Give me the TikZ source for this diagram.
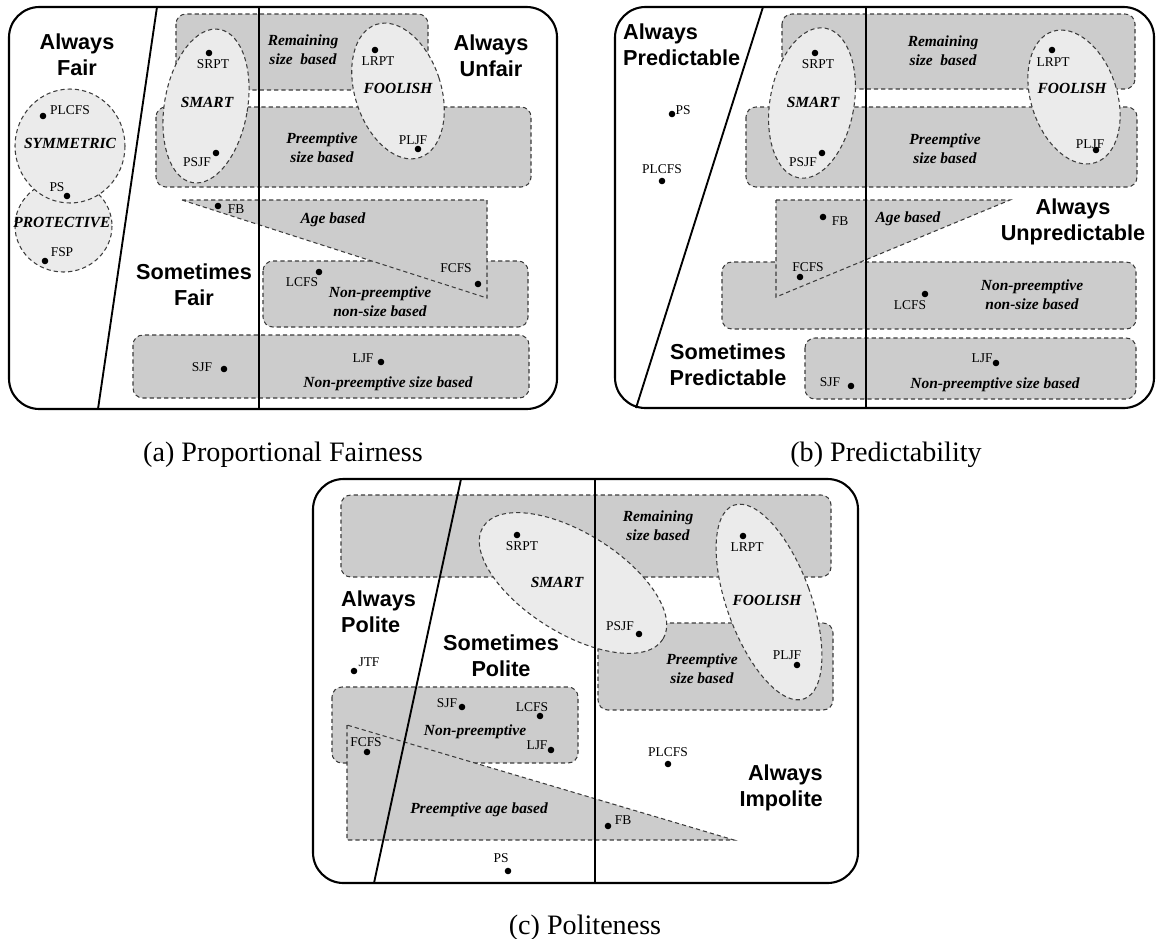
\documentclass[tikz,border=0pt]{standalone}
\usepackage{fontspec}
\setmainfont{Liberation Serif}
\setsansfont{Liberation Sans}
\definecolor{boxgray}{HTML}{CCCCCC}
\definecolor{ellgray}{HTML}{EBEBEB}
\definecolor{edgegray}{HTML}{3C3C3C}
\begin{document}
\begin{tikzpicture}[x=0.03cm,y=-0.03cm,
  dashedge/.style={draw=edgegray, line width=0.9pt, dash pattern=on 3.6pt off 2.6pt},
  classbox/.style={dashedge, fill=boxgray, rounded corners=8.5pt},
  classtri/.style={dashedge, fill=boxgray},
  group/.style={dashedge, fill=ellgray},
  frame/.style={draw=black, line width=1.8pt, rounded corners=26pt},
  divider/.style={draw=black, line width=1.6pt},
  dot/.style={circle, fill=black, inner sep=0pt, minimum size=5.6pt},
  lbl/.style={font=\fontsize{11.5}{12}\selectfont, inner sep=0pt},
  cat/.style={font=\bfseries\itshape\fontsize{13.2}{16}\selectfont, align=center, inner sep=0pt},
  region/.style={font=\sffamily\bfseries\fontsize{18.5}{22}\selectfont, align=center, inner sep=0pt},
  caption/.style={font=\fontsize{24}{28}\selectfont, inner sep=0pt, anchor=base},
]
\useasboundingbox (0,0) rectangle (1158,938);

% ================= (a) Proportional Fairness =================
\path[classbox] (176,14) rectangle (428,90);
\path[classbox] (156,107) rectangle (531,187);
\path[classbox] (263,261) rectangle (528,327);
\path[classtri] (182,200) -- (487,200) -- (487,298) -- cycle;
\path[classbox] (133,335) rectangle (529,398);
\path[group, rotate around={-10:(206,106)}] (206,106) ellipse (41.5 and 77.8);
\path[group, rotate around={18:(398,91)}] (398,91) ellipse (43 and 70);
\path[group] (63.5,226) ellipse (48.5 and 46);
\path[group] (70,146) ellipse (55 and 57);

\draw[divider] (157,7) -- (98,409);
\draw[divider] (259,7) -- (259,409);
\draw[frame] (9,7) rectangle (557,409);

\node[region] (a-fair) at (77,55) {Always\\Fair};
\node[region] (a-unfair) at (491,56) {Always\\Unfair};
\node[region] (a-some) at (194,285) {Sometimes\\Fair};

\node[cat] (a-rem) at (303,50) {Remaining\\size \ based};
\node[cat] (a-pre) at (322,148) {Preemptive\\size based};
\node[cat] (a-age) at (333,220) {Age based};
\node[cat] (a-npns) at (380,302) {Non-preemptive\\non-size based};
\node[cat] (a-nps) at (388,384) {Non-preemptive size based};
\node[cat] (a-smart) at (207,102) {SMART};
\node[cat] (a-fool) at (398,88) {FOOLISH};
\node[cat] (a-sym) at (70,143) {SYMMETRIC};
\node[cat] (a-prot) at (62,222) {PROTECTIVE};

\node[dot] (a-srpt) at (209,53) {};   \node[lbl] (a-srpt-l) at (213,64) {SRPT};
\node[dot] (a-psjf) at (216,153) {};  \node[lbl] (a-psjf-l) at (197,162) {PSJF};
\node[dot] (a-plcfs) at (43,116) {};  \node[lbl] (a-plcfs-l) at (70,110) {PLCFS};
\node[dot] (a-ps) at (67,196) {};     \node[lbl] (a-ps-l) at (57,187) {PS};
\node[dot] (a-fsp) at (45,261) {};    \node[lbl] (a-fsp-l) at (62,252) {FSP};
\node[dot] (a-fb) at (218,206) {};    \node[lbl] (a-fb-l) at (236,209) {FB};
\node[dot] (a-sjf) at (224,369) {};   \node[lbl] (a-sjf-l) at (202,367) {SJF};
\node[dot] (a-lcfs) at (319,272) {};  \node[lbl] (a-lcfs-l) at (302,282) {LCFS};
\node[dot] (a-lrpt) at (375,50) {};   \node[lbl] (a-lrpt-l) at (378,61) {LRPT};
\node[dot] (a-pljf) at (418,149) {};  \node[lbl] (a-pljf-l) at (413,140) {PLJF};
\node[dot] (a-fcfs) at (478,284) {};  \node[lbl] (a-fcfs-l) at (456,268) {FCFS};
\node[dot] (a-ljf) at (381,362) {};   \node[lbl] (a-ljf-l) at (363,358) {LJF};

\node[caption] (cap-a) at (283,461) {(a) Proportional Fairness};

% ================= (b) Predictability =================
\path[classbox] (782,14) rectangle (1135,89);
\path[classbox] (746,107) rectangle (1137,187);
\path[classbox] (722,262) rectangle (1136,329);
\path[classtri] (776,200) -- (1010,200) -- (776,297) -- cycle;
\path[classbox] (805,338) rectangle (1136,399);
\path[group, rotate around={-10:(812,103)}] (812,103) ellipse (42 and 76);
\path[group, rotate around={18:(1074,97)}] (1074,97) ellipse (43 and 69);

\draw[divider] (763,7) -- (636,408);
\draw[divider] (866,7) -- (866,408);
\draw[frame] (615,7) rectangle (1154,408);

\node[region, anchor=west, align=left] (b-pred) at (623,45) {Always\\Predictable};
\node[region] (b-unpred) at (1073,222) {Always\\Unpredictable};
\node[region] (b-some) at (728,365) {Sometimes\\Predictable};

\node[cat] (b-rem) at (943,51) {Remaining\\size \ based};
\node[cat] (b-pre) at (945,149) {Preemptive\\size based};
\node[cat] (b-age) at (908,219) {Age based};
\node[cat] (b-npns) at (1032,295) {Non-preemptive\\non-size based};
\node[cat] (b-nps) at (995,385) {Non-preemptive size based};
\node[cat] (b-smart) at (813,102) {SMART};
\node[cat] (b-fool) at (1072,88) {FOOLISH};

\node[dot] (b-srpt) at (815,53) {};   \node[lbl] (b-srpt-l) at (818,64) {SRPT};
\node[dot] (b-psjf) at (822,153) {};  \node[lbl] (b-psjf-l) at (803,162) {PSJF};
\node[dot] (b-ps) at (672,114) {};    \node[lbl] (b-ps-l) at (683,110) {PS};
\node[dot] (b-plcfs) at (662,181) {}; \node[lbl] (b-plcfs-l) at (662,169) {PLCFS};
\node[dot] (b-fb) at (823,217) {};    \node[lbl] (b-fb-l) at (840,221) {FB};
\node[dot] (b-fcfs) at (800,277) {};  \node[lbl] (b-fcfs-l) at (808,267) {FCFS};
\node[dot] (b-lrpt) at (1052,50) {};  \node[lbl] (b-lrpt-l) at (1053,62) {LRPT};
\node[dot] (b-pljf) at (1096,150) {}; \node[lbl] (b-pljf-l) at (1090,144) {PLJF};
\node[dot] (b-lcfs) at (925,294) {};  \node[lbl] (b-lcfs-l) at (910,305) {LCFS};
\node[dot] (b-ljf) at (996,363) {};   \node[lbl] (b-ljf-l) at (982,358) {LJF};
\node[dot] (b-sjf) at (851,386) {};   \node[lbl] (b-sjf-l) at (830,382) {SJF};

\node[caption] (cap-b) at (886,461) {(b) Predictability};

% ================= (c) Politeness =================
\path[classbox] (341,495) rectangle (831,577);
\path[classbox] (598,623) rectangle (833,710);
\path[classbox] (332,687) rectangle (578,763);
\path[classtri] (347,725) -- (347,840) -- (734,840) -- cycle;
\path[group, rotate around={-32:(573,583)}] (573,583) ellipse (106 and 50);
\path[group, rotate around={20:(769,602)}] (769,602) ellipse (42 and 103);

\draw[divider] (461,479) -- (374,883);
\draw[divider] (595,479) -- (595,883);
\draw[frame] (313,479) rectangle (858,883);

\node[region, anchor=west, align=left] (c-polite) at (341,612) {Always\\Polite};
\node[region] (c-some) at (501,656) {Sometimes\\Polite};
\node[region, anchor=east, align=right] (c-impolite) at (823,788) {Always\\Impolite};

\node[cat] (c-rem) at (658,526) {Remaining\\size based};
\node[cat] (c-pre) at (702,669) {Preemptive\\size based};
\node[cat] (c-np) at (475,732) {Non-preemptive};
\node[cat] (c-age) at (479,810) {Preemptive age based};
\node[cat] (c-smart) at (557,582) {SMART};
\node[cat] (c-fool) at (767,600) {FOOLISH};

\node[dot] (c-srpt) at (517,535) {};  \node[lbl] (c-srpt-l) at (522,546) {SRPT};
\node[dot] (c-psjf) at (639,634) {};  \node[lbl] (c-psjf-l) at (620,626) {PSJF};
\node[dot] (c-lrpt) at (743,536) {};  \node[lbl] (c-lrpt-l) at (747,547) {LRPT};
\node[dot] (c-pljf) at (797,665) {};  \node[lbl] (c-pljf-l) at (787,655) {PLJF};
\node[dot] (c-plcfs) at (668,764) {}; \node[lbl] (c-plcfs-l) at (668,752) {PLCFS};
\node[dot] (c-fb) at (608,826) {};    \node[lbl] (c-fb-l) at (623,820) {FB};
\node[dot] (c-jtf) at (354,671) {};   \node[lbl] (c-jtf-l) at (369,662) {JTF};
\node[dot] (c-sjf) at (462,707) {};   \node[lbl] (c-sjf-l) at (447,703) {SJF};
\node[dot] (c-lcfs) at (540,716) {};  \node[lbl] (c-lcfs-l) at (532,707) {LCFS};
\node[dot] (c-ljf) at (551,750) {};   \node[lbl] (c-ljf-l) at (537,745) {LJF};
\node[dot] (c-fcfs) at (367,752) {};  \node[lbl] (c-fcfs-l) at (366,742) {FCFS};
\node[dot] (c-ps) at (508,871) {};    \node[lbl] (c-ps-l) at (501,858) {PS};

\node[caption] (cap-c) at (585,934) {(c) Politeness};
\end{tikzpicture}
\end{document}
